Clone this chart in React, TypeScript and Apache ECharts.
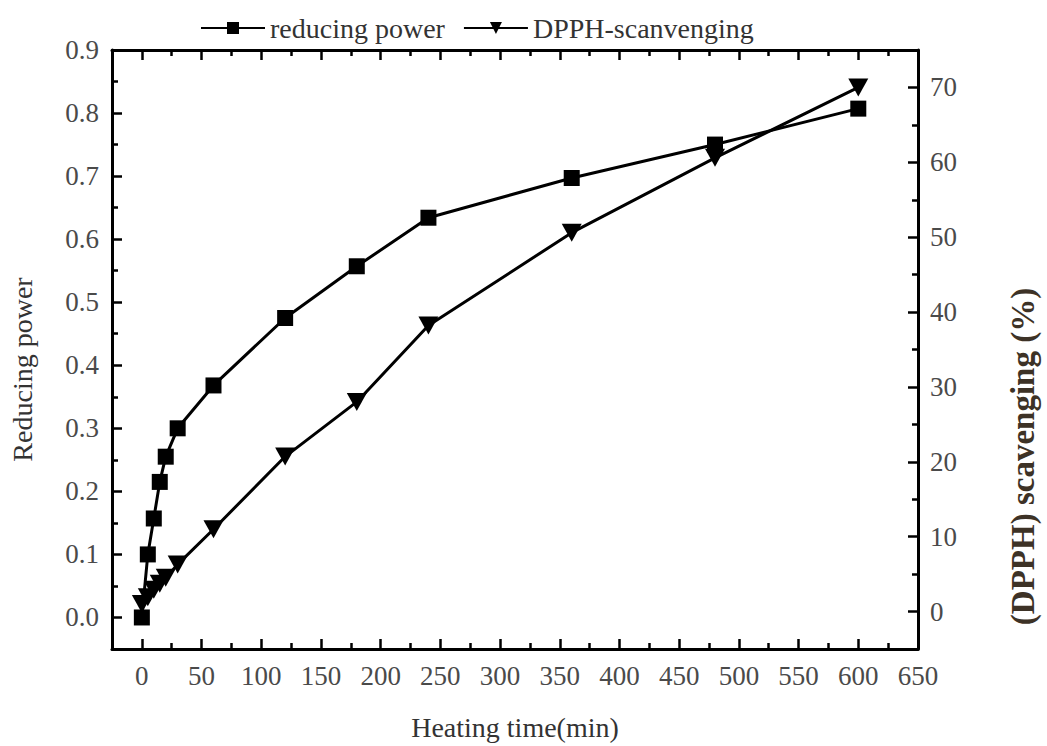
import React, { useEffect, useRef } from "react";
import * as echarts from "echarts";

// Heating time (min)
const timeMin = [0, 5, 10, 15, 20, 30, 60, 120, 180, 240, 360, 480, 600];
// Reducing power (left axis)
const reducingPower = [0.0, 0.1, 0.157, 0.215, 0.255, 0.3, 0.368, 0.475, 0.557, 0.634, 0.697, 0.75, 0.807];
// DPPH scavenging % (right axis)
const dpphScavenging = [1.0, 1.9, 2.9, 3.7, 4.5, 6.3, 11.0, 20.7, 28.0, 38.2, 50.6, 60.6, 70.0];

// Tick labels
const xTicks = [0, 50, 100, 150, 200, 250, 300, 350, 400, 450, 500, 550, 600, 650];
const leftTicks = [0, 0.1, 0.2, 0.3, 0.4, 0.5, 0.6, 0.7, 0.8, 0.9];
const rightTicks = [0, 10, 20, 30, 40, 50, 60, 70];

const midpoints = (arr: number[]) =>
  arr.slice(0, -1).map((v, i) => Math.round(((v + arr[i + 1]) / 2) * 1000) / 1000);

const FONT = "Liberation Serif";

export default function App() {
  const ref = useRef<HTMLDivElement>(null);

  useEffect(() => {
    if (!ref.current) return;
    const chart = echarts.init(ref.current, null, { renderer: "svg" });

    const lineAxis = { show: true, onZero: false, lineStyle: { color: "#000", width: 3 } };
    const majorTick = (values: number[]) => ({
      show: true,
      inside: true,
      length: 10,
      customValues: values,
      lineStyle: { color: "#000", width: 2.5 },
    });
    const minorTickAxis = (values: number[]) => ({
      show: true,
      inside: true,
      length: 6,
      customValues: values,
      lineStyle: { color: "#000", width: 2.5 },
    });
    const labelStyle = { fontSize: 27, fontFamily: FONT, color: "#4a4a4a" };

    const xBase = { type: "value", min: -25, max: 650, splitLine: { show: false } };
    const yLeftBase = { type: "value", min: -0.05, max: 0.9, splitLine: { show: false } };
    const yRightBase = { type: "value", min: -5, max: 75, splitLine: { show: false } };

    const option: any = {
      animation: false,
      backgroundColor: "#fff",
      grid: { left: 110, right: 119, top: 50, bottom: 93, containLabel: false },
      legend: {
        left: 195,
        top: 9,
        itemWidth: 64,
        itemHeight: 15,
        itemGap: 18,
        textStyle: { fontSize: 28, fontFamily: FONT, color: "#333" },
        data: ["reducing power", "DPPH-scanvenging"],
      },
      xAxis: [
        {
          ...xBase,
          position: "bottom",
          axisLine: lineAxis,
          axisTick: majorTick(xTicks),
          axisLabel: { ...labelStyle, customValues: xTicks, margin: 13 },
          name: "Heating time(min)",
          nameLocation: "middle",
          nameGap: 64,
          nameTextStyle: { fontSize: 28, fontFamily: FONT, color: "#333" },
        },
        {
          ...xBase,
          position: "top",
          axisLine: lineAxis,
          axisTick: majorTick(xTicks),
          axisLabel: { show: false },
        },
        {
          ...xBase,
          position: "bottom",
          axisLine: { show: false, onZero: false },
          axisTick: minorTickAxis(midpoints(xTicks)),
          axisLabel: { show: false },
        },
        {
          ...xBase,
          position: "top",
          axisLine: { show: false, onZero: false },
          axisTick: minorTickAxis(midpoints(xTicks)),
          axisLabel: { show: false },
        },
      ],
      yAxis: [
        {
          ...yLeftBase,
          position: "left",
          axisLine: lineAxis,
          axisTick: majorTick(leftTicks),
          axisLabel: {
            ...labelStyle,
            customValues: leftTicks,
            margin: 13,
            formatter: (v: number) => v.toFixed(1),
          },
          name: "Reducing power",
          nameLocation: "middle",
          nameGap: 76,
          nameTextStyle: { fontSize: 28, fontFamily: FONT, color: "#333", padding: [0, 40, 0, 0] },
        },
        {
          ...yRightBase,
          position: "right",
          axisLine: lineAxis,
          axisTick: majorTick(rightTicks),
          axisLabel: { ...labelStyle, customValues: rightTicks, margin: 12 },
          name: "(DPPH) scavenging (%)",
          nameLocation: "middle",
          nameGap: 88,
          nameTextStyle: {
            fontSize: 33,
            fontWeight: "bold",
            fontFamily: FONT,
            color: "#3d3226",
            padding: [0, 214, 0, 0],
          },
        },
        {
          ...yLeftBase,
          position: "left",
          axisLine: { show: false, onZero: false },
          axisTick: minorTickAxis(midpoints(leftTicks)),
          axisLabel: { show: false },
        },
        {
          ...yRightBase,
          position: "right",
          axisLine: { show: false, onZero: false },
          axisTick: minorTickAxis(midpoints(rightTicks)),
          axisLabel: { show: false },
        },
      ],
      series: [
        {
          name: "reducing power",
          type: "line",
          xAxisIndex: 0,
          yAxisIndex: 0,
          data: timeMin.map((t, i) => [t, reducingPower[i]]),
          symbol: "rect",
          symbolSize: 16,
          itemStyle: { color: "#000" },
          lineStyle: { color: "#000", width: 3 },
          z: 3,
        },
        {
          name: "DPPH-scanvenging",
          type: "line",
          xAxisIndex: 0,
          yAxisIndex: 1,
          data: timeMin.map((t, i) => [t, dpphScavenging[i]]),
          symbol: "triangle",
          symbolRotate: 180,
          symbolSize: [20, 18],
          itemStyle: { color: "#000" },
          lineStyle: { color: "#000", width: 3 },
          z: 3,
        },
      ],
    };

    chart.setOption(option);
    return () => chart.dispose();
  }, []);

  return (
    <div
      ref={ref}
      style={{ position: "fixed", left: 0, top: 0, width: 1047, height: 746, background: "#fff" }}
    />
  );
}
